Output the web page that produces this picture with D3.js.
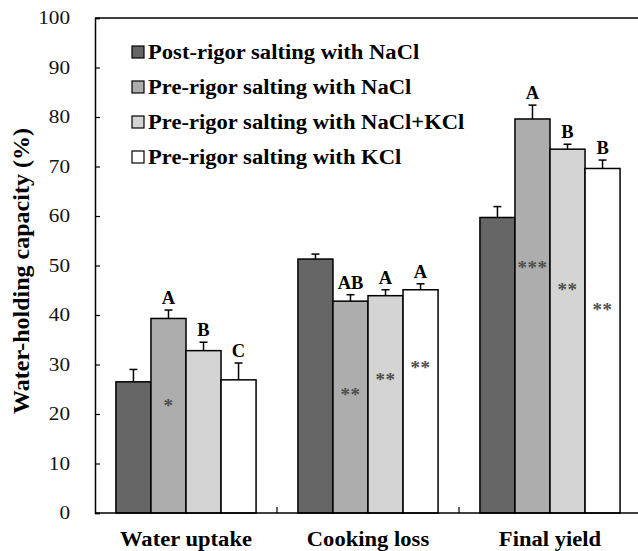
<!DOCTYPE html>
<html>
<head>
<meta charset="utf-8">
<script src="https://cdn.jsdelivr.net/npm/d3@7"></script>
<style>
  body { margin: 0; background: #fff; }
  text { font-family: "Liberation Serif", "Times New Roman", serif; }
</style>
</head>
<body>
<svg id="chart" width="638" height="551"></svg>
<script>
var categories = ["Water uptake", "Cooking loss", "Final yield"];
var seriesNames = [
  "Post-rigor salting with NaCl",
  "Pre-rigor salting with NaCl",
  "Pre-rigor salting with NaCl+KCl",
  "Pre-rigor salting with KCl"
];
var seriesColors = ["#666666", "#adadad", "#d4d4d4", "#ffffff"];

// mean values per series (one per category)
var postNaCl = [26.5, 51.3, 59.7];
var preNaCl = [39.3, 42.8, 79.6];
var preNaClKCl = [32.8, 43.9, 73.5];
var preKCl = [26.9, 45.1, 69.6];

// standard deviations (upper whisker only)
var postNaClErr = [2.5, 1.0, 2.2];
var preNaClErr = [1.7, 1.3, 2.8];
var preNaClKClErr = [1.7, 1.2, 1.0];
var preKClErr = [3.4, 1.2, 1.7];

// significance letters above bars
var postNaClLetters = ["", "", ""];
var preNaClLetters = ["A", "AB", "A"];
var preNaClKClLetters = ["B", "A", "B"];
var preKClLetters = ["C", "A", "B"];

// asterisks inside bars and their height (axis units)
var postNaClStars = ["", "", ""];
var preNaClStars = ["*", "**", "***"];
var preNaClKClStars = ["", "**", "**"];
var preKClStars = ["", "**", "**"];
var postNaClStarY = [0, 0, 0];
var preNaClStarY = [22.3, 24.5, 50.3];
var preNaClKClStarY = [0, 27.5, 45.7];
var preKClStarY = [0, 30.1, 41.8];

var yTicks = [0, 10, 20, 30, 40, 50, 60, 70, 80, 90, 100];

var values = [postNaCl, preNaCl, preNaClKCl, preKCl];
var errs = [postNaClErr, preNaClErr, preNaClKClErr, preKClErr];
var letters = [postNaClLetters, preNaClLetters, preNaClKClLetters, preKClLetters];
var stars = [postNaClStars, preNaClStars, preNaClKClStars, preKClStars];
var starY = [postNaClStarY, preNaClStarY, preNaClKClStarY, preKClStarY];

var data = [];
categories.forEach(function(c, ci) {
  seriesNames.forEach(function(s, si) {
    data.push({
      cat: c, series: si, value: values[si][ci], err: errs[si][ci],
      letter: letters[si][ci], star: stars[si][ci], starY: starY[si][ci]
    });
  });
});

var svg = d3.select("#chart");
var mLeft = 95, mTop = 18, mBottom = 513, mRight = 641;

var x0 = d3.scaleBand().domain(categories).range([mLeft, mRight]).paddingInner(0).paddingOuter(0);
var groupW = x0.bandwidth() * 0.77;
var x1 = d3.scaleBand().domain(d3.range(seriesNames.length)).range([0, groupW]);
var y = d3.scaleLinear().domain([0, 100]).range([mBottom, mTop]);

function barX(d) { return x0(d.cat) + (x0.bandwidth() - groupW) / 2 + x1(d.series); }
function midX(d) { return barX(d) + x1.bandwidth() / 2; }

// the text in the figure is drawn a bit wider than normal
var stretch = 1.13;

// frame: top line and left axis
svg.append("line").attr("x1", mLeft).attr("x2", 638).attr("y1", mTop).attr("y2", mTop)
  .attr("stroke", "#000").attr("stroke-width", 1.5);

var yAxis = d3.axisLeft(y).tickValues(yTicks).tickSize(-5).tickPadding(25);
var gy = svg.append("g").attr("transform", "translate(" + mLeft + ",0)").call(yAxis);
gy.select(".domain").attr("stroke-width", 1.5);
gy.selectAll(".tick line").attr("stroke-width", 1.2);
gy.selectAll(".tick text")
  .attr("x", null)
  .attr("transform", "translate(-25,0) scale(1.18,1)")
  .attr("font-size", 18).attr("fill", "#111");

// bars
svg.append("g").selectAll("rect").data(data).enter().append("rect")
  .attr("x", barX)
  .attr("y", function(d) { return y(d.value); })
  .attr("width", x1.bandwidth())
  .attr("height", function(d) { return y(0) - y(d.value); })
  .attr("fill", function(d) { return seriesColors[d.series]; })
  .attr("stroke", "#000").attr("stroke-width", 1.5);

// error bars
var eb = svg.append("g").selectAll("g").data(data).enter().append("g");
eb.append("line")
  .attr("x1", midX).attr("x2", midX)
  .attr("y1", function(d) { return y(d.value); })
  .attr("y2", function(d) { return y(d.value + d.err); })
  .attr("stroke", "#000").attr("stroke-width", 1.5);
eb.append("line")
  .attr("x1", function(d) { return midX(d) - 4; })
  .attr("x2", function(d) { return midX(d) + 4; })
  .attr("y1", function(d) { return y(d.value + d.err); })
  .attr("y2", function(d) { return y(d.value + d.err); })
  .attr("stroke", "#000").attr("stroke-width", 1.5);

// letters
svg.append("g").selectAll("text").data(data.filter(function(d) { return d.letter; })).enter().append("text")
  .attr("x", midX)
  .attr("y", function(d) { return y(d.value + d.err) - 6; })
  .attr("text-anchor", "middle").attr("font-size", 18.5).attr("font-weight", "bold")
  .text(function(d) { return d.letter; });

// stars
svg.append("g").selectAll("text").data(data.filter(function(d) { return d.star; })).enter().append("text")
  .attr("x", midX)
  .attr("y", function(d) { return y(d.starY) + 9.5; })
  .attr("text-anchor", "middle").attr("font-size", 19).attr("font-weight", "bold").attr("fill", "#4d4d4d")
  .attr("letter-spacing", 0.5)
  .text(function(d) { return d.star; });

// bottom axis with separators
svg.append("line").attr("x1", mLeft).attr("x2", 638).attr("y1", mBottom).attr("y2", mBottom)
  .attr("stroke", "#000").attr("stroke-width", 1.5);
svg.append("g").selectAll("line").data(categories.slice(1)).enter().append("line")
  .attr("x1", function(c) { return x0(c); }).attr("x2", function(c) { return x0(c); })
  .attr("y1", mBottom).attr("y2", mBottom - 6)
  .attr("stroke", "#000").attr("stroke-width", 1.2);
svg.append("g").selectAll("text").data(categories).enter().append("text")
  .attr("transform", function(c) {
    return "translate(" + (x0(c) + x0.bandwidth() / 2) + ",546) scale(" + stretch + ",1)";
  })
  .attr("text-anchor", "middle").attr("font-size", 20).attr("font-weight", "bold")
  .text(function(c) { return c; });

// y title
svg.append("text")
  .attr("transform", "translate(29,271) rotate(-90)")
  .attr("text-anchor", "middle").attr("font-size", 24).attr("font-weight", "bold")
  .text("Water-holding capacity (%)");

// legend
var lg = svg.append("g").selectAll("g").data(seriesNames).enter().append("g")
  .attr("transform", function(d, i) { return "translate(132," + (52 + i * 35) + ")"; });
lg.append("rect").attr("x", 0).attr("y", -6).attr("width", 12).attr("height", 12)
  .attr("fill", function(d, i) { return seriesColors[i]; })
  .attr("stroke", "#000").attr("stroke-width", 1.2);
lg.append("text")
  .attr("transform", "translate(16,7) scale(" + stretch + ",1)")
  .attr("font-size", 20).attr("font-weight", "bold")
  .text(function(d) { return d; });
</script>
</body>
</html>
